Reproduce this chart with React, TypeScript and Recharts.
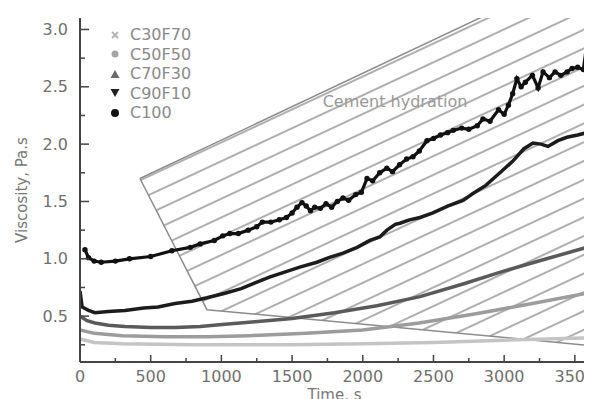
import React from 'react';
import { ComposedChart, Line, Area, XAxis, YAxis, Legend, ReferenceDot } from 'recharts';

// ---- data ----
const c100Time = [35, 60, 100, 150, 250, 350, 500, 650, 780, 850, 950, 1010, 1060, 1120, 1190, 1250, 1290, 1350, 1410, 1460, 1500, 1535, 1570, 1600, 1630, 1660, 1700, 1740, 1780, 1820, 1860, 1900, 1950, 1990, 2030, 2070, 2120, 2170, 2210, 2260, 2310, 2355, 2400, 2454, 2500, 2550, 2600, 2640, 2700, 2750, 2810, 2850, 2900, 2960, 3000, 3030, 3060, 3090, 3120, 3150, 3200, 3240, 3275, 3320, 3360, 3400, 3445, 3480, 3520, 3560, 3585];
const c100Visc = [1.08, 1.01, 0.98, 0.97, 0.98, 1.0, 1.02, 1.07, 1.1, 1.13, 1.16, 1.2, 1.22, 1.22, 1.25, 1.28, 1.32, 1.32, 1.34, 1.36, 1.4, 1.45, 1.49, 1.46, 1.42, 1.45, 1.44, 1.48, 1.45, 1.5, 1.53, 1.51, 1.56, 1.58, 1.7, 1.68, 1.75, 1.79, 1.76, 1.82, 1.87, 1.89, 1.94, 2.03, 2.05, 2.08, 2.1, 2.12, 2.14, 2.13, 2.16, 2.22, 2.2, 2.3, 2.26, 2.34, 2.44, 2.57, 2.5, 2.54, 2.6, 2.49, 2.63, 2.58, 2.63, 2.6, 2.63, 2.66, 2.67, 2.65, 2.88];

const c90Time = [0, 15, 60, 106, 200, 318, 450, 552, 672, 792, 898, 1025, 1140, 1238, 1340, 1436, 1560, 1676, 1760, 1860, 1960, 2050, 2120, 2171, 2230, 2263, 2330, 2405, 2496, 2600, 2709, 2779, 2870, 2970, 3060, 3140, 3204, 3260, 3310, 3380, 3444, 3520, 3585];
const c90Visc = [0.72, 0.58, 0.55, 0.53, 0.54, 0.55, 0.57, 0.58, 0.61, 0.63, 0.66, 0.7, 0.74, 0.79, 0.84, 0.88, 0.93, 0.97, 1.01, 1.05, 1.1, 1.16, 1.19, 1.25, 1.3, 1.31, 1.34, 1.36, 1.4, 1.46, 1.51, 1.57, 1.64, 1.75, 1.85, 1.96, 2.01, 2.0, 1.98, 2.03, 2.06, 2.08, 2.1];

const c70Time = [0, 50, 106, 200, 318, 500, 672, 850, 1025, 1238, 1500, 1800, 2100, 2405, 2709, 2991, 3300, 3585];
const c70Visc = [0.5, 0.46, 0.44, 0.42, 0.41, 0.4, 0.4, 0.41, 0.43, 0.45, 0.48, 0.53, 0.59, 0.67, 0.78, 0.89, 1.0, 1.1];

const c50Time = [0, 100, 300, 600, 900, 1200, 1600, 2000, 2400, 2800, 3200, 3585];
const c50Visc = [0.38, 0.35, 0.33, 0.32, 0.32, 0.33, 0.35, 0.38, 0.44, 0.52, 0.61, 0.7];

const c30Time = [0, 100, 300, 800, 1500, 2000, 2500, 3000, 3585];
const c30Visc = [0.3, 0.27, 0.26, 0.25, 0.25, 0.26, 0.27, 0.29, 0.31];

const hatchTime = [424, 898, 3600];
const hatchLow = [1.7, 0.556, 0.245];
const hatchHigh = [1.7, 1.976, 3.55];

const seriesNames = ['C30F70', 'C50F50', 'C70F30', 'C90F10', 'C100'];
const yMajorTicks = [0.5, 1.0, 1.5, 2.0, 2.5, 3.0];
const yMinorTicks = [0.25, 0.75, 1.25, 1.75, 2.25, 2.75];
const xMajorTicks = [0, 500, 1000, 1500, 2000, 2500, 3000, 3500];
const xMinorTicks = [250, 750, 1250, 1750, 2250, 2750, 3250];
const annotation = 'Cement hydration';

// ---- building tables ----
const toPoints = (ts: number[], vs: number[]) => ts.map((t, i) => ({ t, v: vs[i] }));
const c100Data = toPoints(c100Time, c100Visc);
const c90Data = toPoints(c90Time, c90Visc);
const c70Data = toPoints(c70Time, c70Visc);
const c50Data = toPoints(c50Time, c50Visc);
const c30Data = toPoints(c30Time, c30Visc);
const hatchData = hatchTime.map((t, i) => ({ t, range: [hatchLow[i], hatchHigh[i]] }));

const FONT = 'DejaVu Sans';
const TICK_COLOR = '#707070';

const YTick = (props: any) => {
  const { x, y, payload } = props;
  const v = payload.value;
  const major = yMajorTicks.includes(v);
  const ax = x + 12;
  return (
    <g>
      <line x1={ax} x2={ax + (major ? 9 : 5)} y1={y} y2={y} stroke="#444" strokeWidth={1.5} />
      {major && (
        <text x={x} y={y} textAnchor="end" dominantBaseline="central" fill={TICK_COLOR} fontSize={16} fontFamily={FONT}>
          {v.toFixed(1)}
        </text>
      )}
    </g>
  );
};

const XTick = (props: any) => {
  const { x, y, payload } = props;
  const v = payload.value;
  const major = xMajorTicks.includes(v);
  const ay = y - 8;
  return (
    <g>
      <line x1={x} x2={x} y1={ay} y2={ay - (major ? 7 : 4)} stroke="#444" strokeWidth={1.5} />
      {major && (
        <text x={x} y={y} dy="0.75em" textAnchor="middle" fill={TICK_COLOR} fontSize={16} fontFamily={FONT}>
          {v}
        </text>
      )}
    </g>
  );
};

const markerFor = (name: string) => {
  switch (name) {
    case 'C30F70':
      return (
        <g stroke="#b5b5b5" strokeWidth={2}>
          <line x1={2} y1={2} x2={8} y2={8} />
          <line x1={8} y1={2} x2={2} y2={8} />
        </g>
      );
    case 'C50F50':
      return <circle cx={5} cy={5} r={3.5} fill="#a5a5a5" />;
    case 'C70F30':
      return <polygon points="5,1 9.5,9 0.5,9" fill="#6a6a6a" />;
    case 'C90F10':
      return <polygon points="0.5,1 9.5,1 5,9" fill="#222" />;
    default:
      return <circle cx={5} cy={5} r={4} fill="#111" />;
  }
};

const renderLegend = () => (
  <div style={{ fontFamily: FONT, fontSize: 16, color: '#8a8a8a' }}>
    {seriesNames.map((n) => (
      <div key={n} style={{ display: 'flex', alignItems: 'center', height: 19.5 }}>
        <svg width={10} height={10} style={{ marginRight: 10 }}>
          {markerFor(n)}
        </svg>
        <span>{n}</span>
      </div>
    ))}
  </div>
);

export default function App() {
  return (
    <div style={{ width: 584, height: 391, fontFamily: FONT }}>
      <ComposedChart width={584} height={391} margin={{ top: 10, right: 3, bottom: 7, left: 10 }}>
        <defs>
          <pattern id="hatch" width="10" height="17" patternUnits="userSpaceOnUse" patternTransform="rotate(-25)">
            <line x1="0" y1="8" x2="10" y2="8" stroke="#8c8c8c" strokeWidth="1.4" />
          </pattern>
        </defs>
        <XAxis
          type="number"
          dataKey="t"
          domain={[0, 3600]}
          allowDataOverflow
          ticks={[...xMajorTicks, ...xMinorTicks].sort((a, b) => a - b)}
          interval={0}
          tickSize={0}
          tickMargin={8}
          tick={<XTick />}
          axisLine={{ stroke: '#444', strokeWidth: 2 }}
          height={30}
          label={{ value: 'Time, s', position: 'insideBottom', offset: -8, fill: '#777', fontSize: 15, fontFamily: FONT }}
        />
        <YAxis
          type="number"
          domain={[0.1, 3.1]}
          allowDataOverflow
          ticks={[...yMajorTicks, ...yMinorTicks].sort((a, b) => a - b)}
          interval={0}
          tickSize={0}
          tickMargin={12}
          tick={<YTick />}
          axisLine={{ stroke: '#444', strokeWidth: 2 }}
          width={62}
          label={{
            value: 'Viscosity, Pa.s',
            angle: -90,
            position: 'insideLeft',
            offset: 4,
            fill: '#777',
            fontSize: 15,
            fontFamily: FONT,
            style: { textAnchor: 'middle' },
          }}
        />
        <Legend
          layout="horizontal"
          verticalAlign="middle"
          align="center"
          content={renderLegend}
          wrapperStyle={{ left: 102, top: 17, width: 'auto' }}
        />
        <Area
          data={hatchData}
          dataKey="range"
          type="linear"
          fill="url(#hatch)"
          fillOpacity={1}
          stroke="#8c8c8c"
          strokeWidth={1.5}
          isAnimationActive={false}
          legendType="none"
          activeDot={false}
        />
        <Line data={c30Data} dataKey="v" name="C30F70" type="linear" stroke="#c4c4c4" strokeWidth={3.5} dot={false} isAnimationActive={false} />
        <Line data={c50Data} dataKey="v" name="C50F50" type="linear" stroke="#9c9c9c" strokeWidth={3.5} dot={false} isAnimationActive={false} />
        <Line data={c70Data} dataKey="v" name="C70F30" type="linear" stroke="#5a5a5a" strokeWidth={3.5} dot={false} isAnimationActive={false} />
        <Line data={c90Data} dataKey="v" name="C90F10" type="linear" stroke="#1c1c1c" strokeWidth={3.5} dot={false} isAnimationActive={false} />
        <Line
          data={c100Data}
          dataKey="v"
          name="C100"
          type="linear"
          stroke="#111"
          strokeWidth={3.2}
          dot={{ r: 2.7, fill: '#111', stroke: 'none' }}
          isAnimationActive={false}
        />
        <ReferenceDot
          x={2228}
          y={2.37}
          r={0}
          fill="none"
          stroke="none"
          label={{ value: annotation, position: 'center', fill: '#999', fontSize: 16, fontFamily: FONT }}
        />
      </ComposedChart>
    </div>
  );
}
